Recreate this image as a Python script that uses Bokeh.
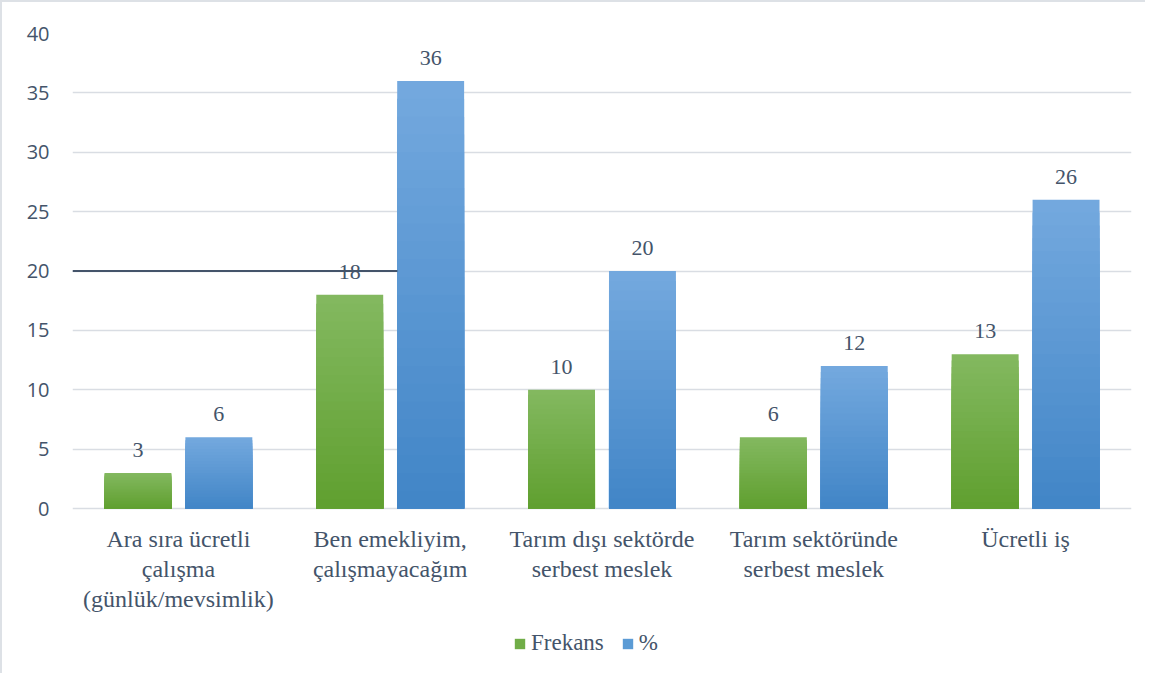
from bokeh.plotting import figure
from bokeh.models import (ColumnDataSource, FactorRange, Range1d, FixedTicker, LabelSet,
                          Legend, LegendItem, Segment)
from bokeh.transform import dodge
from bokeh.embed import file_html
from bokeh.resources import INLINE

categories = ["Ara sıra ücretli\nçalışma\n(günlük/mevsimlik)",
              "Ben emekliyim,\nçalışmayacağım",
              "Tarım dışı sektörde\nserbest meslek",
              "Tarım sektöründe\nserbest meslek",
              "Ücretli iş"]
frekans = [3, 18, 10, 6, 13]
yuzde = [6, 36, 20, 12, 26]
y_ticks = [0, 5, 10, 15, 20, 25, 30, 35, 40]
ref_line_y = 20

SERIF = "Liberation Serif"
TXT = "#44546a"
GRID = "#d9dde3"

PLOT_H = 475      # px for 0..40
EXTRA_H = 165     # px below zero for category labels and legend
y_max = 40
y_min = -y_max * EXTRA_H / PLOT_H

p = figure(x_range=FactorRange(*categories, range_padding=0), y_range=Range1d(y_min, y_max),
           frame_width=1059, frame_height=PLOT_H + EXTRA_H, output_backend="svg", toolbar_location=None,
           min_border_left=70, min_border_top=31, min_border_right=14, min_border_bottom=0,
           background_fill_color="white", border_fill_color="white")
p.outline_line_color = None
p.styles = {"border-left": "2px solid #dde1e6", "border-top": "2px solid #dde1e6"}

p.yaxis.ticker = FixedTicker(ticks=y_ticks)
p.yaxis.axis_line_color = None
p.yaxis.major_tick_line_color = None
p.yaxis.minor_tick_line_color = None
p.yaxis.major_label_text_font = "Open Sans"
p.yaxis.major_label_text_font_size = "20px"
p.yaxis.major_label_text_color = TXT
p.yaxis.major_label_standoff = 17
p.ygrid.grid_line_color = GRID
p.ygrid.grid_line_width = 1.5
p.xgrid.grid_line_color = None
p.xaxis.visible = False

N = 24
def hexc(c):
    return "#%02x%02x%02x" % tuple(int(round(v)) for v in c)

def gradient_source(vals, light, dark):
    xs, tops, cols = [], [], []
    for k in range(N):
        t = k / (N - 1)
        col = hexc([light[i] + (dark[i] - light[i]) * t for i in range(3)])
        for c, v in zip(categories, vals):
            xs.append(c)
            tops.append(v * (N - k) / N)
            cols.append(col)
    return ColumnDataSource(dict(x=xs, top=tops, color=cols))

off = 0.191
bw = 0.316
src_g = gradient_source(frekans, (131, 184, 95), (96, 160, 48))
src_b = gradient_source(yuzde, (115, 168, 222), (66, 134, 199))
p.vbar(x=dodge("x", -off, range=p.x_range), top="top", width=bw, source=src_g,
       fill_color="color", line_color=None)
p.vbar(x=dodge("x", off, range=p.x_range), top="top", width=bw, source=src_b,
       fill_color="color", line_color=None)

# stray horizontal line at 20
seg_src = ColumnDataSource(dict(x0=[0.0], x1=[1.534], y0=[ref_line_y], y1=[ref_line_y]))
p.add_glyph(seg_src, Segment(x0="x0", x1="x1", y0="y0", y1="y1", line_color="#44546a", line_width=2))

lab = ColumnDataSource(dict(x=categories, f=frekans, y=yuzde,
                            ft=[str(v) for v in frekans], yt=[str(v) for v in yuzde]))
for col, txt, o in (("f", "ft", -off), ("y", "yt", off)):
    p.add_layout(LabelSet(x=dodge("x", o, range=p.x_range), y=col, text=txt, source=lab,
                          text_align="center", text_baseline="alphabetic", y_offset=16,
                          text_font=SERIF, text_font_size="22px", text_color=TXT))

# category labels, one row per line so each line is centred
cx, ctext, cyo, cy0 = [], [], [], []
for c in categories:
    for i, line in enumerate(c.split("\n")):
        cx.append(c); ctext.append(line); cyo.append(-17 - 30 * i); cy0.append(0)
cat_src = ColumnDataSource(dict(x=cx, t=ctext, yo=cyo, y0=cy0))
p.add_layout(LabelSet(x="x", y="y0", text="t", y_offset="yo", source=cat_src, text_align="center",
                      text_baseline="top", text_font=SERIF, text_font_size="24px",
                      text_color=TXT))

leg_src = ColumnDataSource(dict(x=[categories[0]], top=[0]))
rg = p.vbar(x="x", top="top", width=0.001, source=leg_src, fill_color="#70ad47", line_color=None)
rb = p.vbar(x="x", top="top", width=0.001, source=leg_src, fill_color="#5b9bd5", line_color=None)
legend = Legend(items=[LegendItem(label="Frekans", renderers=[rg]), LegendItem(label="%", renderers=[rb])],
                orientation="horizontal", location=(441, 17), border_line_color=None,
                label_text_font=SERIF, label_text_font_size="23px", label_text_color=TXT,
                glyph_width=13, glyph_height=13, label_standoff=5, spacing=17,
                padding=2, margin=0, background_fill_alpha=0)
p.add_layout(legend, "center")

open("out.html", "w").write(file_html(p, INLINE))
